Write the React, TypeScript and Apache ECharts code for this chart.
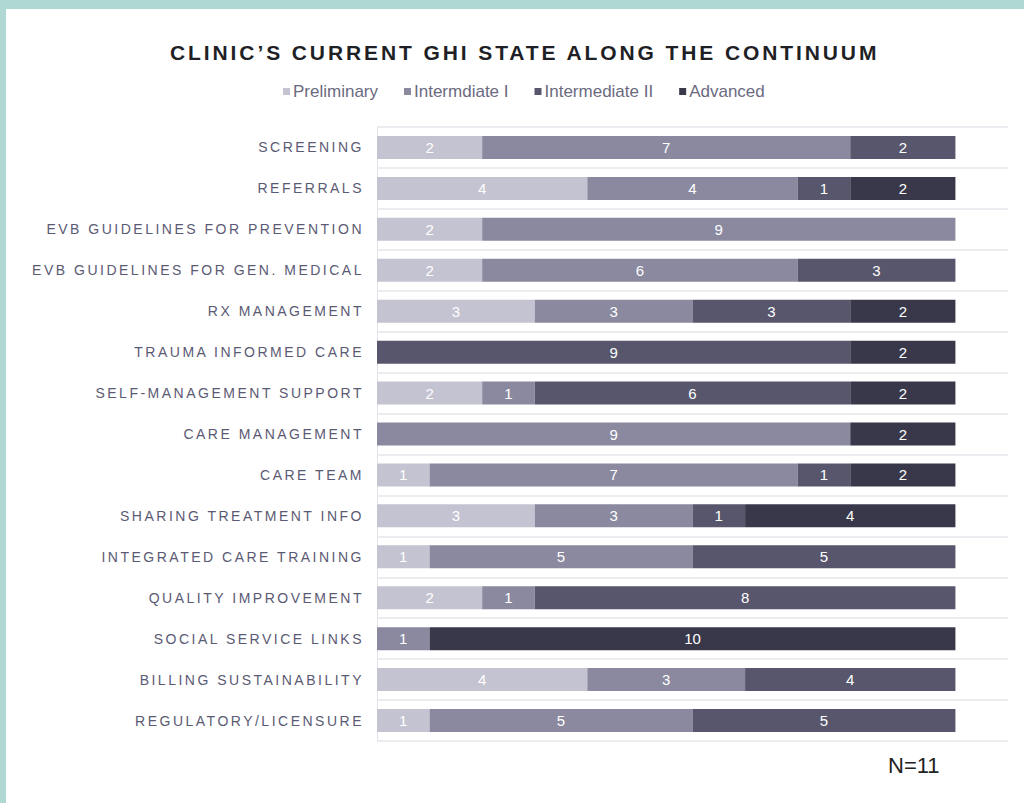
import React, { useEffect, useRef } from "react";
import * as echarts from "echarts";

const TITLE = "CLINIC\u2019S CURRENT GHI STATE ALONG THE CONTINUUM";
const NOTE = "N=11";

const categories = [
  "SCREENING",
  "REFERRALS",
  "EVB GUIDELINES FOR PREVENTION",
  "EVB GUIDELINES FOR GEN. MEDICAL",
  "RX MANAGEMENT",
  "TRAUMA INFORMED CARE",
  "SELF-MANAGEMENT SUPPORT",
  "CARE MANAGEMENT",
  "CARE TEAM",
  "SHARING TREATMENT INFO",
  "INTEGRATED CARE TRAINING",
  "QUALITY IMPROVEMENT",
  "SOCIAL SERVICE LINKS",
  "BILLING SUSTAINABILITY",
  "REGULATORY/LICENSURE",
];

const seriesNames = ["Preliminary", "Intermdiate I", "Intermediate II", "Advanced"];

const preliminary = [2, 4, 2, 2, 3, 0, 2, 0, 1, 3, 1, 2, 0, 4, 1];
const intermediateI = [7, 4, 9, 6, 3, 0, 1, 9, 7, 3, 5, 1, 1, 3, 5];
const intermediateII = [2, 1, 0, 3, 3, 9, 6, 0, 1, 1, 5, 8, 0, 4, 5];
const advanced = [0, 2, 0, 0, 2, 2, 2, 2, 2, 4, 0, 0, 10, 0, 0];

const colors = ["#c4c3d1", "#8a899f", "#57566d", "#39384b"];

export default function App() {
  const ref = useRef<HTMLDivElement>(null);

  useEffect(() => {
    const el = ref.current!;
    const chart = echarts.init(el, undefined, { renderer: "svg" });
    const values = [preliminary, intermediateI, intermediateII, advanced];
    const font = "'Liberation Sans', Arial, sans-serif";

    chart.setOption({
      animation: false,
      backgroundColor: "#ffffff",
      title: {
        text: TITLE,
        left: 165,
        top: 37,
        textStyle: {
          fontFamily: font,
          fontSize: 21,
          fontWeight: "bold",
          color: "#1f1f26",
        },
      },
      legend: {
        top: 78,
        left: 278,
        icon: "rect",
        itemWidth: 7,
        itemHeight: 7,
        itemGap: 26,
        textStyle: { fontFamily: font, fontSize: 17, color: "#6b6a80", padding: [0, 0, 0, -2] },
        data: seriesNames,
      },
      grid: { left: 377, right: 16, top: 127, bottom: 62, containLabel: false },
      xAxis: {
        type: "value",
        min: 0,
        max: 12,
        show: false,
      },
      yAxis: {
        type: "category",
        inverse: true,
        data: categories,
        axisTick: { show: false },
        axisLine: { show: true, lineStyle: { color: "#e2e2e8", width: 1 } },
        splitLine: { show: true, lineStyle: { color: "#ebebf0", width: 2 } },
        axisLabel: {
          fontFamily: font,
          fontSize: 14,
          color: "#5b5a74",
          margin: 13,
        },
      },
      graphic: [
        { type: "rect", shape: { x: 0, y: 0, width: 1024, height: 9 }, style: { fill: "#b0d8d3" } },
        { type: "rect", shape: { x: 0, y: 0, width: 6, height: 803 }, style: { fill: "#b0d8d3" } },
        {
          type: "text",
          left: 888,
          top: 754,
          style: { text: NOTE, font: `22px ${font}`, fill: "#222222" },
        },
      ],
      series: seriesNames.map((name, i) => ({
        name,
        type: "bar",
        stack: "total",
        barWidth: 23,
        data: values[i],
        itemStyle: { color: colors[i] },
        label: {
          show: true,
          position: "inside",
          color: "#ffffff",
          fontFamily: font,
          fontSize: 15,
          formatter: (p: any) => (p.value > 0 ? String(p.value) : ""),
        },
      })),
    });

    const applySpacing = () => {
      el.querySelectorAll("text").forEach((t) => {
        const s = (t.textContent || "").trim();
        if (categories.includes(s)) (t as SVGTextElement).style.letterSpacing = "2.5px";
        else if (s === TITLE) (t as SVGTextElement).style.letterSpacing = "2.9px";
      });
    };
    applySpacing();
    chart.on("finished", applySpacing);

    return () => {
      chart.dispose();
    };
  }, []);

  return (
    <div
      ref={ref}
      style={{ position: "absolute", left: 0, top: 0, width: 1024, height: 803 }}
    />
  );
}
